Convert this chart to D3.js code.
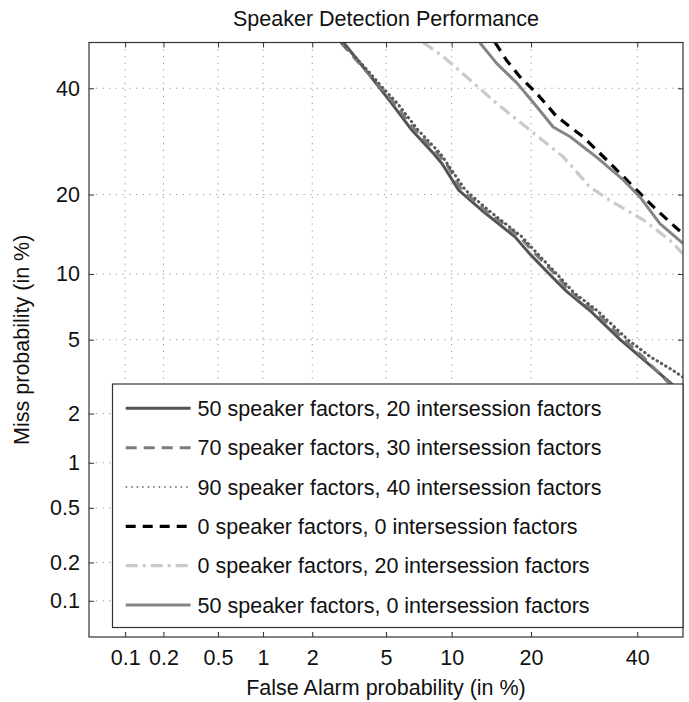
<!DOCTYPE html>
<html>
<head>
<meta charset="utf-8">
<script src="https://cdn.jsdelivr.net/npm/d3@7"></script>
<style>
  html, body { margin: 0; padding: 0; background: #fff; }
  svg { display: block; font-family: "Liberation Sans", Arial, Helvetica, sans-serif; }
</style>
</head>
<body>
<svg id="chart" width="689" height="702"></svg>
<script>
// ---- data (percent) ----
const tickValuesPct = [0.1, 0.2, 0.5, 1, 2, 5, 10, 20, 40];
const tickLabels = ["0.1", "0.2", "0.5", "1", "2", "5", "10", "20", "40"];
const axisMinPct = 0.05;
const axisMaxPct = 50;

const seriesNames = [
  "50 speaker factors, 20 intersession factors",
  "70 speaker factors, 30 intersession factors",
  "90 speaker factors, 40 intersession factors",
  "0 speaker factors, 0 intersession factors",
  "0 speaker factors, 20 intersession factors",
  "50 speaker factors, 0 intersession factors"
];

const fa50_20   = [3.0, 4.07, 4.66, 5.33, 6.65, 8.33, 9.07, 10.7, 13.2, 17.6, 19.8, 23.1, 26.0, 30.3, 36.4, 40.6, 47.1, 50];
const miss50_20 = [50, 43.2, 40, 36.8, 31.4, 27.0, 25.2, 20.7, 17.7, 14.1, 12.1, 9.9, 8.4, 6.9, 5.0, 4.1, 3.0, 2.6];

const fa70_30   = [2.9, 4.0, 4.72, 5.47, 6.89, 8.65, 9.46, 11.0, 13.6, 18.2, 20.5, 24.1, 26.8, 31.1, 37.2, 41.2, 46.7, 50];
const miss70_30 = [50, 43.5, 40, 36.9, 31.4, 27.0, 25.2, 20.7, 17.7, 14.2, 12.2, 9.9, 8.3, 6.9, 5.0, 4.1, 3.0, 2.6];

const fa90_40   = [2.95, 4.1, 4.83, 5.66, 7.11, 8.92, 11.4, 14.0, 18.5, 20.9, 24.4, 27.3, 31.7, 38.0, 42.8, 47.6, 50];
const miss90_40 = [50, 43.5, 40, 36.9, 31.4, 27.0, 20.7, 17.7, 14.2, 12.2, 9.9, 8.3, 6.9, 5.0, 4.1, 3.5, 3.2];

const fa0_0   = [14.9, 16.4, 18.3, 20.9, 24.2, 29.0, 34.3, 39.9, 44.2, 48.6, 50];
const miss0_0 = [50, 46.1, 42.5, 38.9, 34.1, 30.1, 25.2, 20.7, 17.7, 15.2, 14.5];

const fa0_20   = [7.5, 9.2, 11.9, 15.1, 19.8, 25.4, 30.3, 34.3, 41.3, 47.1, 50];
const miss0_20 = [50, 46.9, 41.8, 36.8, 31.4, 26.3, 21.2, 19.1, 16.3, 13.7, 12.1];

const fa50_0   = [13.0, 15.1, 17.9, 20.9, 23.6, 26.6, 31.6, 37.1, 40.6, 44.9, 50];
const miss50_0 = [50, 45.4, 41.1, 36.1, 32.0, 30.1, 26.3, 22.3, 19.6, 15.8, 13.3];

// ---- inverse normal CDF (Acklam) ----
function probit(p) {
  const a = [-3.969683028665376e+01, 2.209460984245205e+02, -2.759285104469687e+02, 1.383577518672690e+02, -3.066479806614716e+01, 2.506628277459239e+00];
  const b = [-5.447609879822406e+01, 1.615858368580409e+02, -1.556989798598866e+02, 6.680131188771972e+01, -1.328068155288572e+01];
  const c = [-7.784894002430293e-03, -3.223964580411365e-01, -2.400758277161838e+00, -2.549732539343734e+00, 4.374664141464968e+00, 2.938163982698783e+00];
  const d = [7.784695709041462e-03, 3.224671290700398e-01, 2.445134137142996e+00, 3.754408661907416e+00];
  const pl = 0.02425, ph = 1 - pl;
  let q, r;
  if (p < pl) {
    q = Math.sqrt(-2 * Math.log(p));
    return (((((c[0]*q+c[1])*q+c[2])*q+c[3])*q+c[4])*q+c[5]) / ((((d[0]*q+d[1])*q+d[2])*q+d[3])*q+1);
  } else if (p <= ph) {
    q = p - 0.5; r = q * q;
    return (((((a[0]*r+a[1])*r+a[2])*r+a[3])*r+a[4])*r+a[5])*q / (((((b[0]*r+b[1])*r+b[2])*r+b[3])*r+b[4])*r+1);
  } else {
    q = Math.sqrt(-2 * Math.log(1 - p));
    return -(((((c[0]*q+c[1])*q+c[2])*q+c[3])*q+c[4])*q+c[5]) / ((((d[0]*q+d[1])*q+d[2])*q+d[3])*q+1);
  }
}
const pz = v => probit(v / 100);

// ---- layout ----
const L = 89, R = 683, T = 42.5, B = 637;
const FONT = 21.5;

const x = d3.scaleLinear().domain([pz(axisMinPct), pz(axisMaxPct)]).range([L, R]);
const y = d3.scaleLinear().domain([pz(axisMinPct), pz(axisMaxPct)]).range([B, T]);
const tickZ = tickValuesPct.map(pz);
const fmt = (d, i) => tickLabels[i];

const svg = d3.select("#chart");

// grid
const grid = svg.append("g").attr("class", "grid");
grid.selectAll("line.gx").data(tickZ).enter().append("line")
  .attr("x1", d => x(d)).attr("x2", d => x(d)).attr("y1", T).attr("y2", B)
  .attr("stroke", "#9a9a9a").attr("stroke-width", 1).attr("stroke-dasharray", "1.3,5.4");
grid.selectAll("line.gy").data(tickZ).enter().append("line")
  .attr("y1", d => y(d)).attr("y2", d => y(d)).attr("x1", L).attr("x2", R)
  .attr("stroke", "#9a9a9a").attr("stroke-width", 1).attr("stroke-dasharray", "1.3,5.4");

// series
const series = [
  { fa: fa50_20, miss: miss50_20, color: "#545454", dash: null, width: 3, cap: "butt" },
  { fa: fa70_30, miss: miss70_30, color: "#7c7c7c", dash: "11,7", width: 3, cap: "butt" },
  { fa: fa90_40, miss: miss90_40, color: "#5a5a5a", dash: "0.5,4.5", width: 3, cap: "round" },
  { fa: fa0_0, miss: miss0_0, color: "#000000", dash: "10,7", width: 3.2, cap: "butt" },
  { fa: fa0_20, miss: miss0_20, color: "#cacaca", dash: "12,5,3,5", width: 3.2, cap: "butt" },
  { fa: fa50_0, miss: miss50_0, color: "#858585", dash: null, width: 3, cap: "butt" }
];

svg.append("defs").append("clipPath").attr("id", "plotclip")
  .append("rect").attr("x", L).attr("y", T).attr("width", R - L).attr("height", B - T);

const line = d3.line().x(d => x(pz(d[0]))).y(d => y(pz(d[1])));
const lines = svg.append("g").attr("clip-path", "url(#plotclip)");
series.forEach(s => {
  const pts = s.fa.map((f, i) => [f, s.miss[i]]);
  lines.append("path").datum(pts)
    .attr("d", line)
    .attr("fill", "none")
    .attr("stroke", s.color)
    .attr("stroke-width", s.width)
    .attr("stroke-linejoin", "round")
    .attr("stroke-linecap", s.cap)
    .attr("stroke-dasharray", s.dash);
});

// axes (ticks on all sides, inward)
const axisColor = "#333";
const gB = svg.append("g").attr("transform", `translate(0,${B})`)
  .call(d3.axisBottom(x).tickValues(tickZ).tickFormat(fmt).tickSize(-5).tickPadding(13));
const gT = svg.append("g").attr("transform", `translate(0,${T})`)
  .call(d3.axisTop(x).tickValues(tickZ).tickFormat("").tickSize(-5));
const gL = svg.append("g").attr("transform", `translate(${L},0)`)
  .call(d3.axisLeft(y).tickValues(tickZ).tickFormat(fmt).tickSize(-5).tickPadding(9));
const gR = svg.append("g").attr("transform", `translate(${R},0)`)
  .call(d3.axisRight(y).tickValues(tickZ).tickFormat("").tickSize(-5));
[gB, gT, gL, gR].forEach(g => {
  g.select(".domain").remove();
  g.selectAll(".tick line").attr("stroke", axisColor);
  g.selectAll(".tick text").attr("font-size", FONT).attr("fill", "#111")
    .attr("font-family", "\"Liberation Sans\", Arial, sans-serif");
});
svg.append("rect").attr("x", L).attr("y", T).attr("width", R - L).attr("height", B - T)
  .attr("fill", "none").attr("stroke", axisColor).attr("stroke-width", 1.2);

// legend
const legX = 112.5, legY = 384, legW = R - 112.5, legH = 243.5;
const leg = svg.append("g");
leg.append("rect").attr("x", legX).attr("y", legY).attr("width", legW).attr("height", legH)
  .attr("fill", "#fff").attr("stroke", axisColor).attr("stroke-width", 1.2);
const rowY0 = 408.3, rowStep = 39.35;
series.forEach((s, i) => {
  const yy = rowY0 + i * rowStep;
  leg.append("line").attr("x1", 125.7).attr("x2", 190.6).attr("y1", yy).attr("y2", yy)
    .attr("stroke", s.color)
    .attr("stroke-width", i === 2 ? 1.6 : s.width)
    .attr("stroke-linecap", i === 2 ? "butt" : s.cap)
    .attr("stroke-dasharray", i === 2 ? "1.5,4" : s.dash);
  leg.append("text").attr("x", 197.6).attr("y", yy + 7.5)
    .attr("font-size", FONT).attr("fill", "#111").text(seriesNames[i]);
});

// titles
svg.append("text").attr("x", (L + R) / 2).attr("y", 26).attr("text-anchor", "middle")
  .attr("font-size", FONT).attr("fill", "#111").text("Speaker Detection Performance");
svg.append("text").attr("x", (L + R) / 2).attr("y", 695).attr("text-anchor", "middle")
  .attr("font-size", FONT).attr("fill", "#111").text("False Alarm probability (in %)");
svg.append("text").attr("transform", `translate(29,${(T + B) / 2}) rotate(-90)`)
  .attr("text-anchor", "middle").attr("font-size", FONT).attr("fill", "#111")
  .text("Miss probability (in %)");
</script>
</body>
</html>
